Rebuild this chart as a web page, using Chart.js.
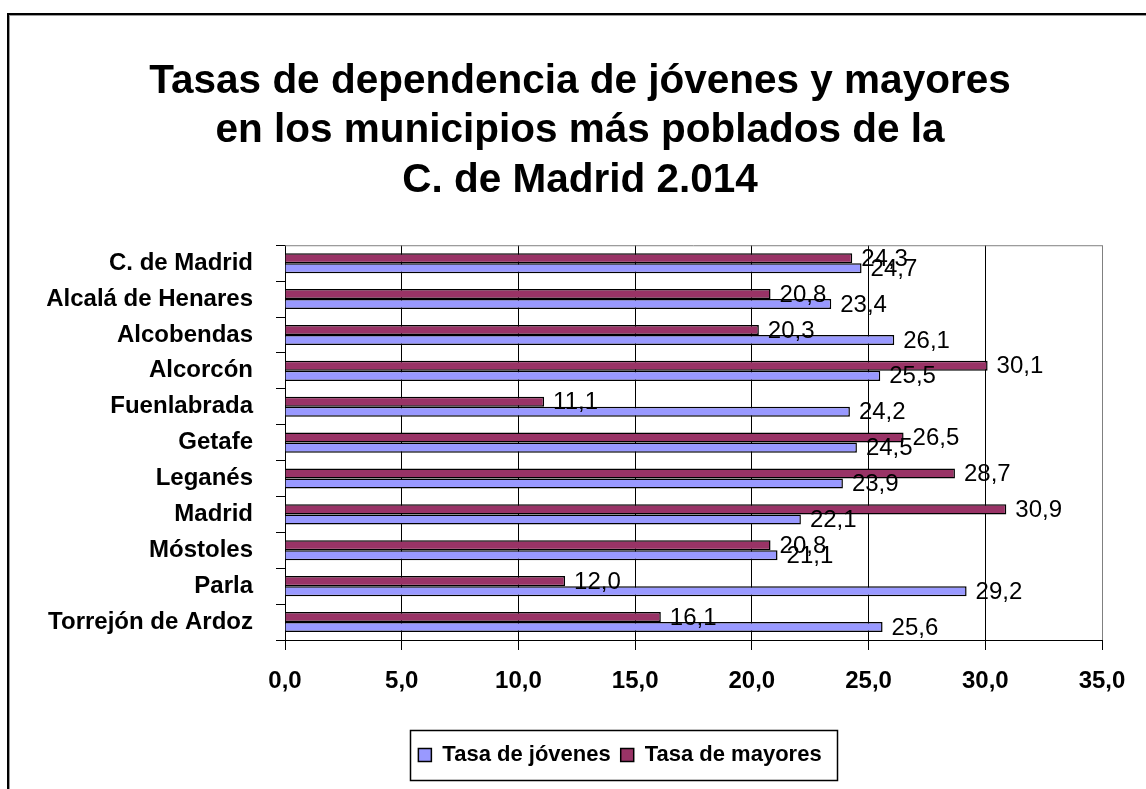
<!DOCTYPE html>
<html><head><meta charset="utf-8">
<script src="https://cdn.jsdelivr.net/npm/chart.js@4.4.1/dist/chart.umd.min.js"></script>
<style>
html,body{margin:0;padding:0;background:#fff;overflow:hidden}
canvas{display:block}
</style></head><body>
<canvas id="c" width="1146" height="789"></canvas>
<script>
const categories = ['C. de Madrid','Alcalá de Henares','Alcobendas','Alcorcón','Fuenlabrada','Getafe','Leganés','Madrid','Móstoles','Parla','Torrejón de Ardoz'];
const tasaJovenes = [24.7,23.4,26.1,25.5,24.2,24.5,23.9,22.1,21.1,29.2,25.6];
const tasaMayores = [24.3,20.8,20.3,30.1,11.1,26.5,28.7,30.9,20.8,12.0,16.1];
const xTickValues = [0,5,10,15,20,25,30,35];
const titleLines = ['Tasas de dependencia de jóvenes y mayores','en los municipios más poblados de la','C. de Madrid 2.014'];
const seriesNames = ['Tasa de jóvenes','Tasa de mayores'];

const FONT = '"Liberation Sans", Arial, sans-serif';
Chart.defaults.font.family = FONT;
Chart.defaults.color = '#000';
const fmt = v => Number(v).toFixed(1).replace('.', ',');

const custom = {
  id: 'custom',
  afterLayout(chart) {
    const lg = chart.legend;
    if (lg) {
      const shift = 620 - (lg.left + lg.right) / 2;
      lg.left += shift; lg.right += shift;
    }
    const tb = chart.titleBlock;
    if (tb) {
      const shift = 580 - (tb.left + tb.right) / 2;
      tb.left += shift; tb.right += shift;
    }
  },
  beforeDraw(chart) {
    const ctx = chart.ctx;
    ctx.save();
    ctx.fillStyle = '#fff'; ctx.fillRect(0, 0, chart.width, chart.height);
    ctx.fillStyle = '#000';
    ctx.fillRect(7, 13, 2, 900); ctx.fillRect(7, 13, 1300, 2);
    ctx.fillStyle = '#9a9a9a';
    ctx.fillRect(9, 15, 1, 900); ctx.fillRect(9, 15, 1300, 1);
    ctx.restore();
  },
  beforeDatasetsDraw(chart) {
    const {ctx, chartArea: a} = chart;
    ctx.save();
    ctx.strokeStyle = '#808080'; ctx.lineWidth = 1;
    ctx.beginPath(); ctx.moveTo(a.left, a.top + 0.5); ctx.lineTo(a.right, a.top + 0.5); ctx.stroke();
    ctx.restore();
  },
  afterDatasetsDraw(chart) {
    const ctx = chart.ctx;
    ctx.save();
    ctx.font = '24px ' + FONT;
    ctx.fillStyle = '#000'; ctx.textAlign = 'left'; ctx.textBaseline = 'middle';
    chart.data.datasets.forEach((ds, di) => {
      const meta = chart.getDatasetMeta(di);
      meta.data.forEach((bar, i) => {
        ctx.fillText(fmt(ds.data[i]), bar.x + 9, bar.y + 1);
      });
    });
    ctx.restore();
  },
  afterDraw(chart) {
    const lg = chart.legend;
    if (!lg || !lg.legendHitBoxes || !lg.legendHitBoxes.length) return;
    const hb = lg.legendHitBoxes;
    let l = Infinity, r = -Infinity;
    hb.forEach(h => { l = Math.min(l, h.left); r = Math.max(r, h.left + h.width); });
    const cy = hb[0].top + hb[0].height / 2;
    const ctx = chart.ctx;
    ctx.save();
    ctx.strokeStyle = '#000'; ctx.lineWidth = 1.5;
    ctx.strokeRect(Math.round(l - 8) + 0.5, Math.round(cy - 25) + 0.5, Math.round(r - l + 24), 50);
    ctx.restore();
  }
};

new Chart(document.getElementById('c'), {
  type: 'bar',
  data: {
    labels: categories,
    datasets: [
      { label: seriesNames[1], data: tasaMayores, backgroundColor: '#993366', borderColor: '#000', borderWidth: 1.5 },
      { label: seriesNames[0], data: tasaJovenes, backgroundColor: '#9999FF', borderColor: '#000', borderWidth: 1.5 }
    ]
  },
  options: {
    indexAxis: 'y',
    responsive: false,
    animation: false,
    devicePixelRatio: 1,
    layout: { padding: { left: 20, right: 44, top: 47, bottom: 13 } },
    datasets: { bar: { categoryPercentage: 0.56, barPercentage: 1.0 } },
    scales: {
      x: {
        min: 0, max: 35,
        afterBuildTicks: s => { s.ticks = xTickValues.map(v => ({ value: v })); },
        ticks: { callback: v => fmt(v), font: { size: 24, weight: 'bold' }, color: '#000', padding: 17, maxRotation: 0, autoSkip: false },
        grid: { color: c => (c.tick && c.tick.value === 35) ? '#808080' : '#000', tickColor: '#000', lineWidth: 1, tickLength: 10, drawOnChartArea: true },
        border: { display: true, color: '#000', width: 1 },
        afterFit: s => { s.height = 94; }
      },
      y: {
        ticks: { font: { size: 24, weight: 'bold' }, color: '#000', padding: 23, autoSkip: false },
        grid: { drawOnChartArea: false, color: '#000', tickLength: 9, offset: true, lineWidth: 1 },
        border: { display: true, color: '#000', width: 1 },
        afterFit: s => { s.width = 265; }
      }
    },
    plugins: {
      title: { display: true, text: titleLines, font: { size: 40.5, weight: 'bold', lineHeight: 1.22 }, color: '#000', padding: { top: 10, bottom: 40 } },
      legend: { position: 'bottom', reverse: true, labels: { boxWidth: 13, boxHeight: 13, font: { size: 22, weight: 'bold' }, color: '#000', padding: 10 } },
      tooltip: { enabled: false }
    }
  },
  plugins: [custom]
});
</script>
</body></html>
